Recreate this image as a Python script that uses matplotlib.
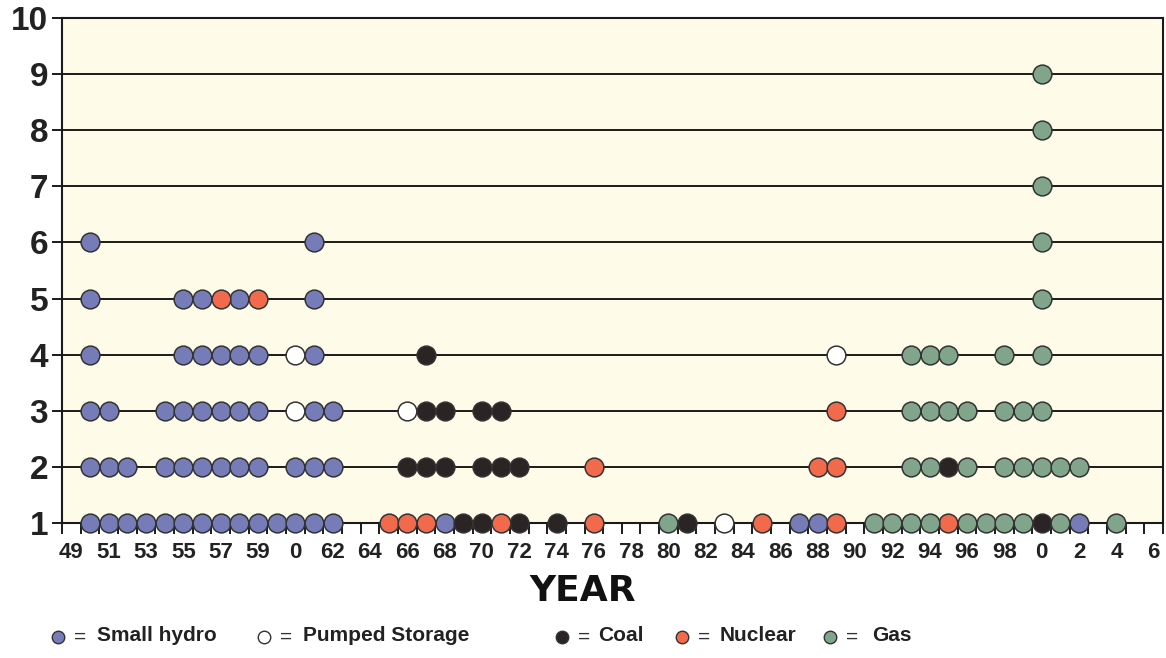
import matplotlib
matplotlib.use("Agg")
import matplotlib.pyplot as plt

# x positions are slots along the year axis (slot 0 = '49', labels on every other slot)
year_labels = ['49', '51', '53', '55', '57', '59', '0', '62', '64', '66', '68', '70',
               '72', '74', '76', '78', '80', '82', '84', '86', '88', '90', '92', '94',
               '96', '98', '0', '2', '4', '6']
n_slots = 59

# level on the y axis -> slots with a dot
small_hydro = {1: list(range(1, 15)) + [20, 39, 40, 54],
               2: [1, 2, 3, 5, 6, 7, 8, 9, 10, 12, 13, 14],
               3: [1, 2, 5, 6, 7, 8, 9, 10, 13, 14],
               4: [1, 6, 7, 8, 9, 10, 13],
               5: [1, 6, 7, 9, 13],
               6: [1, 13]}
pumped = {1: [35], 3: [12, 18], 4: [12, 41]}
coal = {1: [21, 22, 24, 26, 33, 52], 2: [18, 19, 20, 22, 23, 24, 47],
        3: [19, 20, 22, 23], 4: [19]}
nuclear = {1: [17, 18, 19, 23, 28, 37, 41, 47], 2: [28, 40, 41], 3: [41], 5: [8, 10]}
gas = {1: [32, 43, 44, 45, 46, 48, 49, 50, 51, 53, 56],
       2: [45, 46, 48, 50, 51, 52, 53, 54],
       3: [45, 46, 47, 48, 50, 51, 52],
       4: [45, 46, 47, 50, 52],
       5: [52], 6: [52], 7: [52], 8: [52], 9: [52]}

series = [("Small hydro", small_hydro, "#767cb8"),
          ("Pumped Storage", pumped, "#ffffff"),
          ("Coal", coal, "#2a2425"),
          ("Nuclear", nuclear, "#f06a4b"),
          ("Gas", gas, "#80a58b")]

plt.rcParams['font.family'] = ['Liberation Sans', 'DejaVu Sans']

fig = plt.figure(figsize=(11.66, 6.58), dpi=100)
ax = fig.add_axes([0.0532, 0.2052, 0.9442, 0.7674])
ax.set_facecolor("#fefce9")

for name, d, col in series:
    xs, ys = [], []
    for lvl, slots in d.items():
        xs += slots
        ys += [lvl] * len(slots)
    ax.plot(xs, ys, 'o', ms=13.5, mfc=col, mec='#333333', mew=1.1,
            clip_on=False, zorder=3, ls='none')

ax.set_xlim(-0.5, n_slots - 0.5)
ax.set_ylim(1, 10)
ax.set_yticks(range(1, 11))
ax.set_yticklabels([str(i) for i in range(1, 11)], fontsize=24, fontweight='bold',
                   color='#222222')
ax.grid(axis='y', color='#1a1a1a', lw=1.4)
ax.set_axisbelow(True)

ax.set_xticks(range(0, 2 * len(year_labels), 2))
ax.set_xticklabels(year_labels, fontsize=16, fontweight='bold', color='#222222')
ax.set_xticks([k + 0.5 for k in range(-1, n_slots)], minor=True)
ax.tick_params(axis='x', which='major', length=0, pad=14)
ax.tick_params(axis='x', which='minor', length=8, width=1.4, direction='out', color='#1a1a1a')
ax.tick_params(axis='y', length=7, width=1.4, pad=3, color='#1a1a1a')
for s in ax.spines.values():
    s.set_linewidth(1.5)
    s.set_color('#1a1a1a')

fig.text(0.5, 0.102, "YEAR", ha='center', va='center', fontsize=26,
         fontweight='heavy', family='DejaVu Sans', color='#111111')

# legend row
leg_pos = [(0.050, 0.083), (0.226, 0.260), (0.482, 0.513), (0.585, 0.617), (0.712, 0.748)]
for (name, d, col), (mx, tx) in zip(series, leg_pos):
    fig.lines.append(plt.Line2D([mx], [0.032], transform=fig.transFigure, marker='o',
                                ms=9, mfc=col, mec='#333333', mew=1, ls='none'))
    fig.text(mx + 0.019, 0.032, "=", ha='center', va='center', fontsize=15, color='#333333')
    fig.text(tx, 0.034, name, ha='left', va='center', fontsize=15,
             fontweight='bold', color='#222222')

fig.savefig("out.png", dpi=100)
